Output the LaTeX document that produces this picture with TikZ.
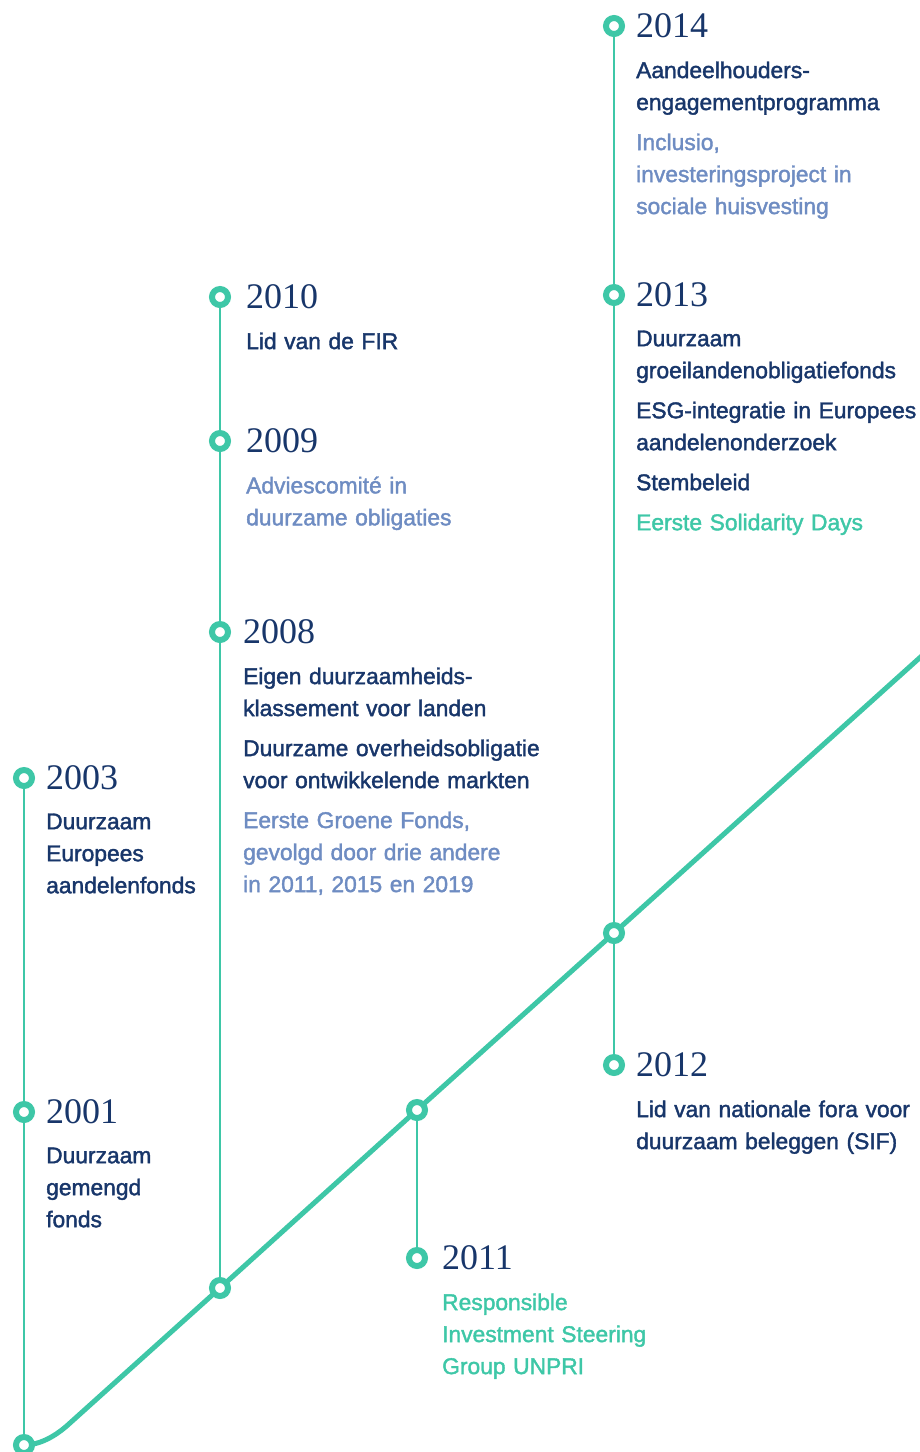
\documentclass[tikz,border=0pt]{standalone}
\usepackage{fontspec}
\newfontfamily\txtfont{Liberation Sans}[FakeBold=1.7]
\newfontfamily\yrfont{Liberation Serif}
\usetikzlibrary{positioning}
\definecolor{tlgreen}{RGB}{62,199,167}
\definecolor{tlnavy}{RGB}{24,54,106}
\definecolor{tlblue}{RGB}{110,140,194}

\begin{document}
\begin{tikzpicture}[
        x=1pt, y=-1pt,
        spine/.style={draw=tlgreen, line width=5pt, line join=round},
        stem/.style={draw=tlgreen, line width=2pt},
        dot/.style={
            circle,
            draw=tlgreen,
            line width=6pt,
            fill=white,
            minimum size=16pt,
            inner sep=0pt
        },
        yr/.style={font=\yrfont\fontsize{36}{36}\selectfont, text=tlnavy, inner sep=0pt},
        txt/.style={
            font=\txtfont\fontsize{22.8}{32}\selectfont,
            text=tlnavy,
            text width=300pt,
            align=left,
            inner sep=0pt
        }
    ]
        \useasboundingbox (0,0) rectangle (920,1452);

        % punten op de tijdlijn
        \coordinate (c0) at (24,1445);
        \coordinate (c01) at (24,1112);
        \coordinate (c03) at (24,778);
        \coordinate (c08) at (220,632);
        \coordinate (c09) at (220,441);
        \coordinate (c10) at (220,297);
        \coordinate (c11) at (417,1258);
        \coordinate (c12) at (614,1065);
        \coordinate (c13) at (614,295);
        \coordinate (c14) at (614,26);
        \coordinate (d08) at (220,1288);
        \coordinate (d11) at (417,1110);
        \coordinate (d13) at (614,933);
        \coordinate (dend) at (935,644);

        % verticale lijnen en de schuine lijn
        \draw[stem] (c03) -- (c0);
        \draw[stem] (c10) -- (d08);
        \draw[stem] (d11) -- (c11);
        \draw[stem] (c14) -- (c12);
        \draw[spine] (c0) .. controls (40,1445) and (56,1436) .. (70,1423)
            -- (d08) -- (d11) -- (d13) -- (dend);

        \foreach \p in {c0,c01,c03,c08,c09,c10,c11,c12,c13,c14,d08,d11,d13}
            \node[dot] (o\p) at (\p) {};

        % jaartallen
        \node[yr, right=11pt of oc14] (y14) {2014};
        \node[yr, right=11pt of oc13] (y13) {2013};
        \node[yr, right=11pt of oc12] (y12) {2012};
        \node[yr, right=14pt of oc11] (y11) {2011};
        \node[yr, right=15pt of oc10] (y10) {2010};
        \node[yr, right=15pt of oc09] (y09) {2009};
        \node[yr, right=12pt of oc08] (y08) {2008};
        \node[yr, right=11pt of oc03] (y03) {2003};
        \node[yr, right=11pt of oc01] (y01) {2001};

        % teksten
        \node[txt, below=23pt of y14.south west, anchor=north west] (t14)
            {Aandeelhouders-\\engagementprogramma\\[8pt]
             \color{tlblue}Inclusio,\\investeringsproject in\\sociale huisvesting};
        \node[txt, below=23pt of y13.south west, anchor=north west] (t13)
            {Duurzaam\\groeilandenobligatiefonds\\[8pt]
             ESG-integratie in Europees\\aandelenonderzoek\\[8pt]
             Stembeleid\\[8pt]
             \color{tlgreen}Eerste Solidarity Days};
        \node[txt, below=23pt of y12.south west, anchor=north west] (t12)
            {Lid van nationale fora voor\\duurzaam beleggen (SIF)};
        \node[txt, text=tlgreen, below=23pt of y11.south west, anchor=north west] (t11)
            {Responsible\\Investment Steering\\Group UNPRI};
        \node[txt, below=23pt of y10.south west, anchor=north west] (t10)
            {Lid van de FIR};
        \node[txt, text=tlblue, below=23pt of y09.south west, anchor=north west] (t09)
            {Adviescomité in\\duurzame obligaties};
        \node[txt, below=23pt of y08.south west, anchor=north west] (t08)
            {Eigen duurzaamheids-\\klassement voor landen\\[8pt]
             Duurzame overheidsobligatie\\voor ontwikkelende markten\\[8pt]
             \color{tlblue}Eerste Groene Fonds,\\gevolgd door drie andere\\in 2011, 2015 en 2019};
        \node[txt, below=23pt of y03.south west, anchor=north west] (t03)
            {Duurzaam\\Europees\\aandelenfonds};
        \node[txt, below=23pt of y01.south west, anchor=north west] (t01)
            {Duurzaam\\gemengd\\fonds};
    \end{tikzpicture}
\end{document}
